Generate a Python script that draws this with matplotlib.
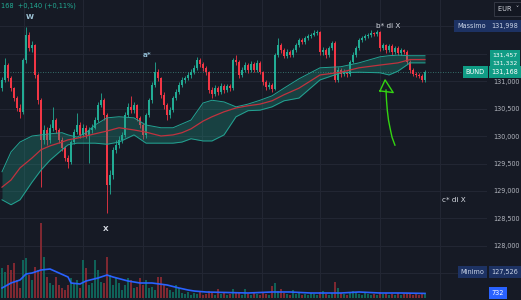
import matplotlib
matplotlib.use("Agg")
import numpy as np
import matplotlib.pyplot as plt
import matplotlib.transforms as mtransforms
from matplotlib.ticker import FuncFormatter

# --- price bars (one entry per candle) ---
first_open = 130.87
close = [131.02, 131.29, 131.05, 130.87, 130.69, 130.51, 130.44, 131.38, 131.84, 131.60,
         131.65, 131.11, 130.65, 129.93, 130.11, 129.93, 130.15, 130.29, 130.11, 129.93,
         129.78, 129.60, 129.53, 129.89, 130.07, 130.20, 130.02, 130.15, 130.02, 130.11,
         130.15, 130.29, 130.56, 130.65, 130.38, 129.11, 129.29, 129.75, 129.84, 129.93,
         130.02, 130.38, 130.53, 130.47, 130.56, 130.33, 130.20, 130.02, 130.38, 130.65,
         130.93, 131.16, 131.05, 130.75, 130.56, 130.38, 130.47, 130.69, 130.80, 130.93,
         131.02, 131.05, 131.11, 131.16, 131.24, 131.38, 131.31, 131.24, 131.16, 130.84,
         130.76, 130.87, 130.80, 130.91, 130.84, 130.91, 130.87, 131.38, 131.35, 131.11,
         131.20, 131.29, 131.20, 131.31, 131.20, 131.33, 131.16, 130.98, 130.89, 130.93,
         130.86, 131.47, 131.65, 131.56, 131.46, 131.53, 131.47, 131.56, 131.65, 131.75,
         131.71, 131.78, 131.82, 131.84, 131.87, 131.89, 131.53, 131.56, 131.47, 131.60,
         131.69, 131.02, 131.20, 131.13, 131.16, 131.13, 131.35, 131.47, 131.60, 131.75,
         131.78, 131.82, 131.84, 131.87, 131.85, 131.89, 131.60, 131.65, 131.56, 131.64,
         131.53, 131.60, 131.51, 131.56, 131.53, 131.35, 131.20, 131.13, 131.11, 131.09,
         131.02, 131.168]
high = [131.08, 131.42, 131.33, 131.09, 130.90, 130.73, 130.58, 131.42, 131.99, 131.90,
        131.72, 131.68, 131.14, 130.70, 130.20, 130.16, 130.22, 130.53, 130.33, 130.15,
        129.98, 129.82, 129.65, 129.93, 130.12, 130.42, 130.25, 130.22, 130.20, 130.16,
        130.22, 130.34, 130.62, 130.78, 130.69, 130.42, 129.38, 129.80, 129.92, 130.00,
        130.08, 130.44, 130.60, 130.73, 130.62, 130.59, 130.36, 130.24, 130.42, 130.70,
        130.98, 131.35, 131.22, 131.08, 130.80, 130.60, 130.52, 130.73, 130.86, 130.98,
        131.07, 131.10, 131.16, 131.21, 131.29, 131.44, 131.42, 131.34, 131.27, 131.19,
        130.89, 130.92, 130.91, 130.96, 130.95, 130.95, 130.94, 131.42, 131.47, 131.38,
        131.25, 131.34, 131.32, 131.36, 131.34, 131.38, 131.36, 131.19, 131.01, 130.98,
        130.96, 131.51, 131.78, 131.70, 131.60, 131.58, 131.57, 131.60, 131.70, 131.79,
        131.78, 131.82, 131.86, 131.88, 131.93, 131.93, 131.91, 131.62, 131.60, 131.64,
        131.73, 131.72, 131.25, 131.24, 131.21, 131.19, 131.39, 131.52, 131.64, 131.79,
        131.82, 131.86, 131.88, 131.93, 131.90, 131.93, 131.91, 131.70, 131.68, 131.68,
        131.67, 131.64, 131.63, 131.60, 131.59, 131.56, 131.38, 131.23, 131.16, 131.14,
        131.12, 131.20]
low = [130.82, 130.98, 131.00, 130.82, 130.64, 130.46, 130.33, 130.40, 131.33, 131.55,
       131.52, 131.05, 130.58, 129.07, 129.86, 129.84, 129.88, 130.10, 130.05, 129.88,
       129.72, 129.55, 129.42, 129.50, 129.85, 130.03, 129.96, 129.98, 129.97, 129.51,
       130.06, 130.12, 130.25, 130.52, 130.30, 128.60, 128.95, 129.22, 129.70, 129.78,
       129.88, 129.98, 130.34, 130.42, 130.42, 130.28, 130.15, 129.94, 129.97, 130.34,
       130.60, 130.90, 131.00, 130.70, 130.50, 130.29, 130.33, 130.44, 130.66, 130.76,
       130.89, 130.97, 131.01, 131.06, 131.12, 131.20, 131.26, 131.19, 131.11, 130.78,
       130.70, 130.72, 130.74, 130.76, 130.79, 130.80, 130.82, 130.84, 131.30, 131.06,
       131.07, 131.16, 131.15, 131.17, 131.16, 131.17, 131.12, 130.93, 130.84, 130.85,
       130.80, 130.83, 131.43, 131.51, 131.42, 131.42, 131.43, 131.44, 131.53, 131.62,
       131.67, 131.68, 131.75, 131.79, 131.81, 131.84, 131.48, 131.48, 131.42, 131.44,
       131.57, 130.98, 130.99, 131.08, 131.09, 131.08, 131.10, 131.32, 131.44, 131.57,
       131.71, 131.75, 131.79, 131.80, 131.81, 131.82, 131.55, 131.56, 131.51, 131.53,
       131.48, 131.50, 131.47, 131.48, 131.49, 131.31, 131.15, 131.09, 131.07, 131.05,
       130.98, 130.99]
volume = [4800, 4160, 5280, 4480, 5600, 2880, 1600, 6080, 6400, 3680,
          2880, 4960, 4480, 12000, 6560, 3360, 2400, 2080, 3360, 2080,
          1600, 1280, 2080, 3200, 2400, 2880, 1600, 6080, 4800, 2080,
          2400, 6080, 4480, 2560, 2400, 6560, 3680, 2080, 3200, 2400,
          1280, 2080, 3200, 2880, 1600, 1760, 3200, 2080, 2880, 1600,
          1760, 1280, 3360, 3360, 2080, 1600, 1280, 960, 2080, 1600,
          800, 640, 960, 480, 800, 640, 960, 480, 640, 1120,
          800, 480, 1440, 640, 800, 480, 640, 1440, 960, 800,
          480, 1440, 640, 480, 800, 640, 480, 960, 640, 480,
          1920, 2400, 1120, 1440, 800, 640, 480, 1280, 640, 800,
          480, 640, 480, 800, 640, 480, 960, 1120, 640, 480,
          800, 2560, 1600, 800, 640, 480, 960, 1120, 800, 640,
          480, 800, 640, 480, 640, 480, 960, 640, 800, 480,
          640, 480, 800, 480, 640, 800, 640, 480, 640, 480,
          640, 800]

# --- volume moving average ---
vol_ma_idx = [0, 3, 6, 8, 10, 13, 16, 19, 22, 23, 26, 28, 32, 35, 37, 42,
              46, 50, 55, 59, 62, 64, 68, 82, 90, 96, 103, 113, 119, 126, 133, 141]
vol_ma = [1600, 2400, 2880, 3840, 4000, 4480, 4640, 4000, 3360, 2400, 2240, 2720,
          3200, 3680, 3360, 2720, 2400, 2400, 2080, 1600, 1280, 1120, 960, 800,
          960, 960, 800, 800, 960, 800, 800, 732]

# --- envelope band (upper / middle / lower) ---
band_idx = [0, 3, 6, 10, 13, 16, 20, 22, 25, 28, 31, 35, 39, 44, 48, 53, 57, 60,
            63, 67, 70, 74, 78, 82, 86, 90, 94, 99, 106, 113, 119, 126, 129, 132, 136, 141]
band_up = [129.35, 129.71, 129.89, 130.00, 130.02, 130.04, 130.06, 130.02, 129.98, 130.06,
           130.20, 130.33, 130.35, 130.33, 130.20, 130.15, 130.15, 130.22, 130.29, 130.60,
           130.65, 130.62, 130.53, 130.58, 130.65, 130.73, 130.87, 131.04, 131.24, 131.26,
           131.33, 131.44, 131.46, 131.47, 131.46, 131.46]
band_mid = [129.07, 129.20, 129.42, 129.60, 129.75, 129.82, 129.89, 129.93, 129.96, 130.00,
            130.04, 130.09, 130.15, 130.11, 130.07, 130.00, 130.02, 130.06, 130.13, 130.27,
            130.35, 130.44, 130.51, 130.55, 130.58, 130.64, 130.75, 130.87, 131.11, 131.16,
            131.24, 131.29, 131.31, 131.33, 131.39, 131.39]
band_lo = [128.84, 128.75, 128.84, 129.16, 129.38, 129.56, 129.75, 129.84, 129.87, 129.87,
           129.87, 129.85, 129.89, 130.02, 129.87, 129.87, 129.87, 129.89, 129.95, 129.91,
           129.91, 130.02, 130.35, 130.46, 130.47, 130.53, 130.64, 130.69, 131.02, 131.15,
           131.16, 131.15, 131.11, 131.18, 131.33, 131.33]

# hand drawn green arrow (bar index, price)
arrow_x = [131.0, 130.0, 129.33, 128.83, 128.43, 128.17, 128.0]
arrow_p = [129.83, 129.98, 130.15, 130.29, 130.47, 130.65, 130.84]
arrow_head_x = [126.0, 127.7, 130.4, 126.0]
arrow_head_p = [130.82, 131.02, 130.79, 130.82]

price_ticks = [128.0, 128.5, 129.0, 129.5, 130.0, 130.5, 131.0]
hidden_ticks = [127.5, 131.5, 132.0]   # grid only, label covered by the tags
last_price = 131.168
day_high = 131.998
day_low = 127.526

BG = '#161a25'
GREEN = '#22ab94'
RED = '#f23645'

close = np.array(close)
opens = np.r_[first_open, close[:-1]]
idx = np.arange(len(close))
up = close >= opens
cols = np.where(up, GREEN, RED)

fig = plt.figure(figsize=(5.21, 3.0), dpi=100, facecolor=BG)
ax = fig.add_axes([0, 0, 487 / 521, 1])
ax.set_facecolor(BG)
ax.set_xlim(-0.67, 161.67)
ax.set_ylim(127.018, 132.473)

# volume pane shares the x axis (twinx moves ax ticks to the left, fixed below)
ax2 = ax.twinx()
ax2.set_ylim(-320, 47680)
ax2.axis('off')

# grid
ax.set_xticks([7.3, 27, 47, 66.7, 86.7, 106, 126, 146])
ax.set_yticks(price_ticks)
ax.set_yticks(hidden_ticks, minor=True)
ax.grid(color='#232734', lw=0.7)
ax.grid(axis='y', which='minor', color='#232734', lw=0.7)
ax.set_axisbelow(True)
ax.tick_params(axis='x', length=0, labelbottom=False)
ax.yaxis.tick_right()
ax.tick_params(axis='y', which='both', length=0, pad=4.5, labelsize=4.7, labelcolor='#b2b5be',
               labelleft=False, labelright=True)
ax.tick_params(axis='y', which='minor', labelright=False)
ax.yaxis.set_major_formatter(FuncFormatter(lambda v, p: f"{v:.3f}".replace('.', ',')))
for s in ax.spines.values():
    s.set_visible(False)

# candles
ax.vlines(idx, low, high, colors=cols, lw=0.6, zorder=2)
body = np.maximum(np.abs(close - opens), 0.012)
ax.bar(idx, body, bottom=np.minimum(opens, close), width=0.7, color=cols, lw=0, zorder=2)

# band over the candles
ax.fill_between(band_idx, band_lo, band_up, color='#1f9c88', alpha=0.3, lw=0, zorder=3)
ax.plot(band_idx, band_up, color='#23a393', lw=0.7, zorder=4)
ax.plot(band_idx, band_lo, color='#23a393', lw=0.7, zorder=4)
ax.plot(band_idx, band_mid, color='#c0323e', lw=0.9, zorder=4)

# last price dotted line
ax.axhline(last_price, color='#3f8a80', lw=0.6, ls=(0, (1, 2)), zorder=1)

# arrow
ax.plot(arrow_x, arrow_p, color='#33d411', lw=1.0, zorder=6, solid_capstyle='round')
ax.plot(arrow_head_x, arrow_head_p, color='#33d411', lw=1.0, zorder=6, solid_joinstyle='round')

# wave labels
lab = dict(fontsize=5.2, zorder=7, ha='center', va='center')
ax.text(9.2, 132.155, 'W', color='#9ec3d6', fontweight='bold', **lab)
ax.text(48.5, 131.48, 'a*', color='#8fb8cf', fontweight='bold', **lab)
ax.text(128.7, 131.996, 'b* di X', color='#d8dce4', **lab)
ax.text(34.6, 128.31, 'X', color='#d8dce4', fontweight='bold', **lab)
ax.text(150.5, 128.84, 'c* di X', color='#d8dce4', **lab)

# top-left legend
fig.text(0.001, 0.982, '168  +0,140 (+0,11%)', color=GREEN, fontsize=4.8, va='center', ha='left')

# volume bars + average
vol_cols = np.where(up, '#0f6b5e', '#8a2a33')
ax2.bar(idx, volume, width=0.7, color=vol_cols, lw=0, alpha=0.9)
ax2.plot(vol_ma_idx, vol_ma, color='#2962ff', lw=1.2)

# price scale labels
tr = mtransforms.blended_transform_factory(ax.transAxes, ax.transData)
tr2 = mtransforms.blended_transform_factory(ax2.transAxes, ax2.transData)
box = dict(boxstyle='square,pad=0.45', lw=0)
vx = 1.037


def tag(a, t, x, y, text, fc, tc='white', size=4.7):
    a.text(x, y, text, transform=t, fontsize=size, color=tc, ha='center', va='center',
           clip_on=False, zorder=10, bbox=dict(box, fc=fc))


NAVY = '#1d3263'
TEAL = '#109c85'
tag(ax, tr, 0.968, day_high, 'Massimo', NAVY, '#c9d3e6')
tag(ax, tr, vx, day_high, f"{day_high:.3f}".replace('.', ','), NAVY, '#c9d3e6')
tag(ax, tr, vx, band_up[-1] + 0.01, '131,457', TEAL, size=4.4)
tag(ax, tr, vx, band_lo[-1] - 0.01, '131,332', TEAL, size=4.4)
tag(ax, tr, 0.976, last_price, 'BUND', TEAL)
tag(ax, tr, vx, last_price, f"{last_price:.3f}".replace('.', ','), TEAL)
tag(ax, tr, 0.970, day_low, 'Minimo', NAVY, '#c9d3e6')
tag(ax, tr, vx, day_low, f"{day_low:.3f}".replace('.', ','), NAVY, '#c9d3e6')
tag(ax2, tr2, 1.022, vol_ma[-1], f"{vol_ma[-1]}", '#2962ff')

# currency selector
fig.text(0.955, 0.97, 'EUR  \u02c5', color='#d1d4dc', fontsize=4.8, ha='left', va='center',
         bbox=dict(boxstyle='square,pad=0.6', fc='#131722', ec='#3a3e4a', lw=0.6))

fig.savefig('out.png', dpi=100, facecolor=BG)
